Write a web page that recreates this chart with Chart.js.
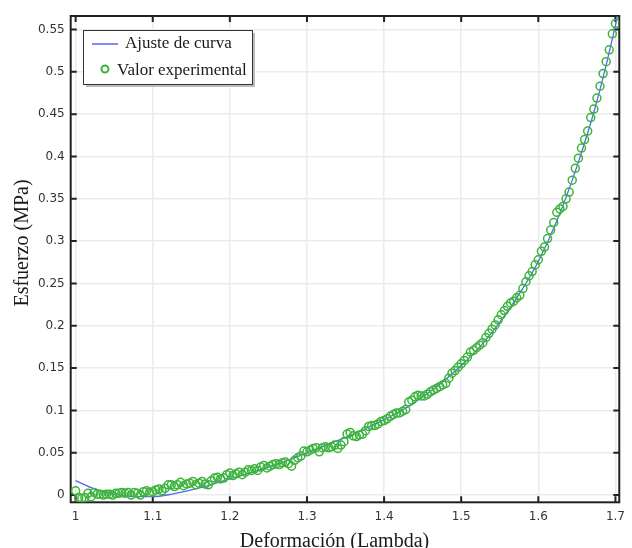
<!DOCTYPE html>
<html>
<head>
<meta charset="UTF-8">
<title>Esfuerzo vs Deformacion</title>
<script src="https://cdn.jsdelivr.net/npm/chart.js@4.4.0/dist/chart.umd.min.js"></script>
<style>
body {
	margin: 0;
	background: #fff;
}
</style>
</head>
<body>
<canvas id="grafica" width="632" height="548"></canvas>
<script>
// curva de ajuste
var ajusteX = [1.000, 1.025, 1.050, 1.075, 1.100, 1.125, 1.150, 1.175, 1.200, 1.225,
	1.250, 1.275, 1.300, 1.325, 1.350, 1.375, 1.400, 1.425, 1.450, 1.475,
	1.500, 1.525, 1.550, 1.575, 1.600, 1.625, 1.650, 1.675, 1.700, 1.703];
var ajusteY = [0.017, 0.007, 0.001, -0.002, -0.002, 0.001, 0.006, 0.012, 0.019, 0.026,
	0.033, 0.041, 0.050, 0.059, 0.068, 0.078, 0.089, 0.101, 0.116, 0.133,
	0.153, 0.176, 0.204, 0.237, 0.276, 0.326, 0.388, 0.462, 0.555, 0.568];

// valores experimentales
var expX = [1.000, 1.004, 1.008, 1.012, 1.016, 1.020, 1.024, 1.028, 1.032, 1.036,
	1.040, 1.044, 1.048, 1.052, 1.056, 1.060, 1.064, 1.068, 1.072, 1.076,
	1.080, 1.084, 1.088, 1.092, 1.096, 1.100, 1.104, 1.108, 1.112, 1.116,
	1.120, 1.124, 1.128, 1.132, 1.136, 1.140, 1.144, 1.148, 1.152, 1.156,
	1.160, 1.164, 1.168, 1.172, 1.176, 1.180, 1.184, 1.188, 1.192, 1.196,
	1.200, 1.204, 1.208, 1.212, 1.216, 1.220, 1.224, 1.228, 1.232, 1.236,
	1.240, 1.244, 1.248, 1.252, 1.256, 1.260, 1.264, 1.268, 1.272, 1.276,
	1.280, 1.284, 1.288, 1.292, 1.296, 1.300, 1.304, 1.308, 1.312, 1.316,
	1.320, 1.324, 1.328, 1.332, 1.336, 1.340, 1.344, 1.348, 1.352, 1.356,
	1.360, 1.364, 1.368, 1.372, 1.376, 1.380, 1.384, 1.388, 1.392, 1.396,
	1.400, 1.404, 1.408, 1.412, 1.416, 1.420, 1.424, 1.428, 1.432, 1.436,
	1.440, 1.444, 1.448, 1.452, 1.456, 1.460, 1.464, 1.468, 1.472, 1.476,
	1.480, 1.484, 1.488, 1.492, 1.496, 1.500, 1.504, 1.508, 1.512, 1.516,
	1.520, 1.524, 1.528, 1.532, 1.536, 1.540, 1.544, 1.548, 1.552, 1.556,
	1.560, 1.564, 1.568, 1.572, 1.576, 1.580, 1.584, 1.588, 1.592, 1.596,
	1.600, 1.604, 1.608, 1.612, 1.616, 1.620, 1.624, 1.628, 1.632, 1.636,
	1.640, 1.644, 1.648, 1.652, 1.656, 1.660, 1.664, 1.668, 1.672, 1.676,
	1.680, 1.684, 1.688, 1.692, 1.696, 1.700];
var expY = [0.005, -0.003, -0.004, -0.003, 0.002, -0.002, 0.003, 0.001, 0.001, 0.000,
	0.001, 0.001, 0.000, 0.002, 0.002, 0.003, 0.002, 0.003, 0.000, 0.003,
	0.002, 0.000, 0.004, 0.005, 0.003, 0.004, 0.006, 0.007, 0.005, 0.008,
	0.012, 0.012, 0.010, 0.012, 0.015, 0.011, 0.013, 0.014, 0.016, 0.012,
	0.014, 0.016, 0.013, 0.012, 0.017, 0.020, 0.021, 0.019, 0.020, 0.024,
	0.026, 0.023, 0.025, 0.027, 0.024, 0.027, 0.030, 0.029, 0.031, 0.029,
	0.033, 0.035, 0.032, 0.034, 0.036, 0.037, 0.036, 0.038, 0.039, 0.037,
	0.034, 0.041, 0.044, 0.046, 0.052, 0.051, 0.053, 0.055, 0.056, 0.051,
	0.056, 0.057, 0.056, 0.057, 0.059, 0.055, 0.059, 0.063, 0.072, 0.074,
	0.070, 0.069, 0.071, 0.072, 0.076, 0.081, 0.082, 0.082, 0.084, 0.087,
	0.088, 0.090, 0.093, 0.095, 0.097, 0.097, 0.099, 0.101, 0.110, 0.112,
	0.116, 0.118, 0.117, 0.117, 0.119, 0.122, 0.124, 0.126, 0.128, 0.130,
	0.132, 0.138, 0.144, 0.147, 0.151, 0.155, 0.159, 0.163, 0.169, 0.171,
	0.174, 0.177, 0.180, 0.186, 0.191, 0.196, 0.201, 0.207, 0.213, 0.218,
	0.223, 0.227, 0.229, 0.233, 0.236, 0.244, 0.252, 0.259, 0.264, 0.272,
	0.278, 0.288, 0.293, 0.303, 0.313, 0.322, 0.334, 0.338, 0.341, 0.350,
	0.358, 0.372, 0.386, 0.398, 0.410, 0.420, 0.430, 0.446, 0.456, 0.469,
	0.483, 0.498, 0.512, 0.526, 0.545, 0.557];

var xTicks = [1, 1.1, 1.2, 1.3, 1.4, 1.5, 1.6, 1.7];
var xTickLabels = ['1', '1.1', '1.2', '1.3', '1.4', '1.5', '1.6', '1.7'];
var yTicks = [0, 0.05, 0.1, 0.15, 0.2, 0.25, 0.3, 0.35, 0.4, 0.45, 0.5, 0.55];
var yTickLabels = ['0', '0.05', '0.1', '0.15', '0.2', '0.25', '0.3', '0.35', '0.4', '0.45', '0.5', '0.55'];

var nombreCurva = 'Ajuste de curva';
var nombreExp = 'Valor experimental';
var tituloX = 'Deformación (Lambda)';
var tituloY = 'Esfuerzo (MPa)';

var colorCurva = '#5468f2';
var colorExp = '#3cb43c';

function pares(xs, ys) {
	var out = [];
	for (var i = 0; i < xs.length; i++) {
		out.push({ x : xs[i], y : ys[i] });
	}
	return out;
}

// marco con marcas hacia adentro, titulos y leyenda
var extras = {
	id : 'extras',
	beforeDatasetsDraw : function(chart) {
		var ctx = chart.ctx, a = chart.chartArea;
		var sx = chart.scales.x, sy = chart.scales.y;
		ctx.save();
		ctx.strokeStyle = '#222';
		ctx.lineWidth = 2;
		ctx.strokeRect(a.left, a.top, a.right - a.left, a.bottom - a.top);
		ctx.beginPath();
		for (var i = 0; i < xTicks.length; i++) {
			var px = sx.getPixelForValue(xTicks[i]);
			ctx.moveTo(px, a.bottom);
			ctx.lineTo(px, a.bottom - 6);
			ctx.moveTo(px, a.top);
			ctx.lineTo(px, a.top + 6);
		}
		for (var j = 0; j < yTicks.length; j++) {
			var py = sy.getPixelForValue(yTicks[j]);
			ctx.moveTo(a.left, py);
			ctx.lineTo(a.left + 6, py);
			ctx.moveTo(a.right, py);
			ctx.lineTo(a.right - 6, py);
		}
		ctx.stroke();
		ctx.restore();
	},
	afterDraw : function(chart) {
		var ctx = chart.ctx;
		ctx.save();
		// titulos de ejes
		ctx.fillStyle = '#1a1a1a';
		ctx.font = '20px "Liberation Serif"';
		ctx.textAlign = 'center';
		ctx.textBaseline = 'alphabetic';
		ctx.fillText(tituloX, 334.5, 547);
		ctx.translate(28, 243);
		ctx.rotate(-Math.PI / 2);
		ctx.fillText(tituloY, 0, 0);
		ctx.restore();

		// leyenda
		ctx.save();
		ctx.fillStyle = '#bdbdbd';
		ctx.fillRect(86, 33, 169, 54);
		ctx.fillStyle = '#fff';
		ctx.fillRect(83, 30, 169, 54);
		ctx.strokeStyle = '#333';
		ctx.lineWidth = 1;
		ctx.strokeRect(83.5, 30.5, 169, 54);
		ctx.strokeStyle = colorCurva;
		ctx.lineWidth = 1.5;
		ctx.beginPath();
		ctx.moveTo(92, 44);
		ctx.lineTo(118, 44);
		ctx.stroke();
		ctx.strokeStyle = colorExp;
		ctx.lineWidth = 2;
		ctx.beginPath();
		ctx.arc(105, 69, 3.5, 0, Math.PI * 2);
		ctx.stroke();
		ctx.fillStyle = '#1a1a1a';
		ctx.font = '17px "Liberation Serif"';
		ctx.textBaseline = 'middle';
		ctx.fillText(nombreCurva, 125, 44);
		ctx.fillText(nombreExp, 117, 71);
		ctx.restore();
	}
};

var ctx = document.getElementById('grafica');
var grafica = new Chart(ctx, {
	type : 'scatter',
	data : {
		datasets : [ {
			type : 'line',
			label : nombreCurva,
			data : pares(ajusteX, ajusteY),
			borderColor : colorCurva,
			borderWidth : 1.3,
			pointRadius : 0,
			fill : false,
			cubicInterpolationMode : 'monotone',
			order : 2
		}, {
			label : nombreExp,
			data : pares(expX, expY),
			showLine : false,
			pointRadius : 4,
			pointBorderWidth : 1.5,
			pointBorderColor : colorExp,
			pointBackgroundColor : 'rgba(0,0,0,0)',
			order : 1
		} ]
	},
	options : {
		responsive : false,
		animation : false,
		layout : {
			padding : { top : 16, right : 5.3, left : 0, bottom : 0 }
		},
		plugins : {
			legend : { display : false },
			tooltip : { enabled : false }
		},
		scales : {
			x : {
				type : 'linear',
				min : 0.9936,
				max : 1.705,
				afterFit : function(s) { s.height = 45.7; },
				afterBuildTicks : function(s) {
					s.ticks = xTicks.map(function(v) { return { value : v }; });
				},
				ticks : {
					padding : 7,
					color : '#333',
					font : { family : 'DejaVu Sans', size : 12 },
					callback : function(v, i) { return xTickLabels[i]; }
				},
				grid : { color : '#ebebeb', lineWidth : 1.5, drawTicks : false },
				border : { display : false }
			},
			y : {
				min : -0.0086,
				max : 0.566,
				afterFit : function(s) { s.width = 70.7; },
				afterBuildTicks : function(s) {
					s.ticks = yTicks.map(function(v) { return { value : v }; });
				},
				ticks : {
					padding : 6,
					color : '#333',
					font : { family : 'DejaVu Sans', size : 12 },
					callback : function(v, i) { return yTickLabels[i]; }
				},
				grid : { color : '#ebebeb', lineWidth : 1.5, drawTicks : false },
				border : { display : false }
			}
		}
	},
	plugins : [ extras ]
});
</script>
</body>
</html>
